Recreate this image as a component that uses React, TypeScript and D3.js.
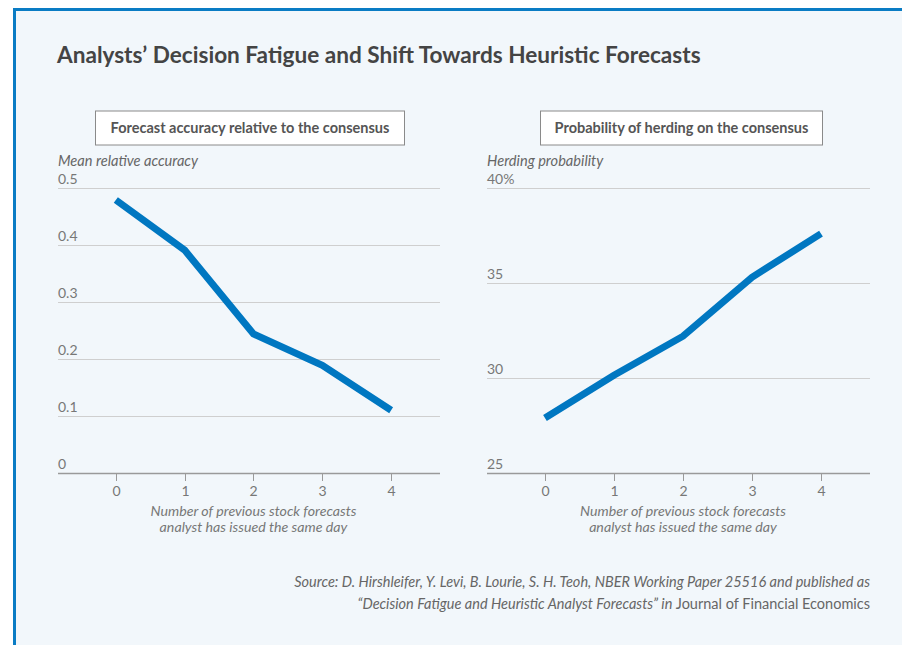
import React, { useEffect, useRef } from "react";
import * as d3 from "d3";

const xCategories = [0, 1, 2, 3, 4];
const accuracyValues = [0.479, 0.391, 0.244, 0.189, 0.11];
const herdingValues = [27.9, 30.15, 32.2, 35.3, 37.6];
const accuracyTicks = [0, 0.1, 0.2, 0.3, 0.4, 0.5];
const herdingTicks = [25, 30, 35, 40];

const title = "Analysts\u2019 Decision Fatigue and Shift Towards Heuristic Forecasts";
const xAxisTitle = ["Number of previous stock forecasts", "analyst has issued the same day"];

const FONT = "Lato, 'Open Sans', sans-serif";
const BLUE = "#0077c1";

const drawPanel = (svg, opts) => {
  const { left, right, top, bottom, values, yDomain, yTicks, fmt, boxTitle, boxX, boxW, yTitle } = opts;
  const g = svg.append("g");

  const x = d3.scaleLinear().domain([-0.84, 4.71]).range([left, right]);
  const y = d3.scaleLinear().domain(yDomain).range([bottom, top]);

  // boxed panel title
  g.append("rect")
    .attr("x", boxX).attr("y", 111).attr("width", boxW).attr("height", 34)
    .attr("fill", "#fff").attr("stroke", "#8a8a8a").attr("stroke-width", 1);
  g.append("text")
    .attr("x", boxX + boxW / 2).attr("y", 133)
    .attr("text-anchor", "middle")
    .attr("font-family", FONT).attr("font-weight", 700).attr("font-size", 14.5)
    .attr("fill", "#555").text(boxTitle);

  g.append("text")
    .attr("x", left).attr("y", 166)
    .attr("font-family", FONT).attr("font-style", "italic").attr("font-size", 14.6)
    .attr("fill", "#666").text(yTitle);

  // grid + y labels
  yTicks.forEach((t, i) => {
    const yy = Math.round(y(t)) + 0.5;
    g.append("line")
      .attr("x1", left).attr("x2", right).attr("y1", yy).attr("y2", yy)
      .attr("stroke", i === 0 ? "#9a9a9a" : "#cfcfcf").attr("stroke-width", i === 0 ? 1.5 : 1);
    g.append("text")
      .attr("x", left).attr("y", yy - 5)
      .attr("font-family", FONT).attr("font-size", 14)
      .attr("fill", "#777").text(fmt(t, i));
  });

  // x ticks
  xCategories.forEach((c) => {
    const xx = Math.round(x(c)) + 0.5;
    g.append("line")
      .attr("x1", xx).attr("x2", xx).attr("y1", bottom).attr("y2", bottom + 8)
      .attr("stroke", "#9a9a9a").attr("stroke-width", 1);
    g.append("text")
      .attr("x", xx).attr("y", bottom + 23)
      .attr("text-anchor", "middle")
      .attr("font-family", FONT).attr("font-size", 14)
      .attr("fill", "#777").text(c);
  });

  const cx = (x(xCategories[0]) + x(xCategories[xCategories.length - 1])) / 2;
  xAxisTitle.forEach((line, i) => {
    g.append("text")
      .attr("x", cx).attr("y", bottom + 43 + i * 15.5)
      .attr("text-anchor", "middle")
      .attr("font-family", FONT).attr("font-style", "italic").attr("font-size", 14.2)
      .attr("fill", "#777").text(line);
  });

  const line = d3.line().x((d, i) => x(xCategories[i])).y((d) => y(d));
  g.append("path")
    .datum(values)
    .attr("fill", "none")
    .attr("stroke", BLUE)
    .attr("stroke-width", 7)
    .attr("d", line);
};

const App = () => {
  const ref = useRef(null);

  useEffect(() => {
    const svg = d3.select(ref.current);
    svg.selectAll("*").remove();

    svg.append("rect").attr("x", 0).attr("y", 0).attr("width", 902).attr("height", 645).attr("fill", "#fff");
    svg.append("rect").attr("x", 14.5).attr("y", 9.5).attr("width", 900).attr("height", 650)
      .attr("fill", "#f2f7fb").attr("stroke", "#0a7cc4").attr("stroke-width", 3);

    svg.append("text")
      .attr("x", 57).attr("y", 63)
      .attr("font-family", FONT).attr("font-weight", 700).attr("font-size", 22.6)
      .attr("fill", "#444").text(title);

    drawPanel(svg, {
      left: 58, right: 440, top: 188, bottom: 473,
      values: accuracyValues, yDomain: [0, 0.5], yTicks: accuracyTicks,
      fmt: (t) => (t === 0 ? "0" : d3.format(".1f")(t)),
      boxTitle: "Forecast accuracy relative to the consensus", boxX: 95.5, boxW: 309,
      yTitle: "Mean relative accuracy",
    });

    drawPanel(svg, {
      left: 487, right: 870, top: 188, bottom: 473,
      values: herdingValues, yDomain: [25, 40], yTicks: herdingTicks,
      fmt: (t) => (t === 40 ? "40%" : String(t)),
      boxTitle: "Probability of herding on the consensus", boxX: 540.5, boxW: 282,
      yTitle: "Herding probability",
    });

    const src = svg.append("g")
      .attr("font-family", FONT).attr("font-size", 14.5).attr("fill", "#666");
    src.append("text")
      .attr("x", 870).attr("y", 587).attr("text-anchor", "end").attr("font-style", "italic")
      .text("Source: D. Hirshleifer, Y. Levi, B. Lourie, S. H. Teoh, NBER Working Paper 25516 and published as");
    const t2 = src.append("text").attr("x", 870).attr("y", 609).attr("text-anchor", "end");
    t2.append("tspan").attr("font-style", "italic")
      .text("\u201CDecision Fatigue and Heuristic Analyst Forecasts\u201D in ");
    t2.append("tspan").text("Journal of Financial Economics");
  }, []);

  return (
    <svg ref={ref} width={902} height={645}
      style={{ position: "absolute", left: 0, top: 0, display: "block" }} />
  );
};

export default App;
